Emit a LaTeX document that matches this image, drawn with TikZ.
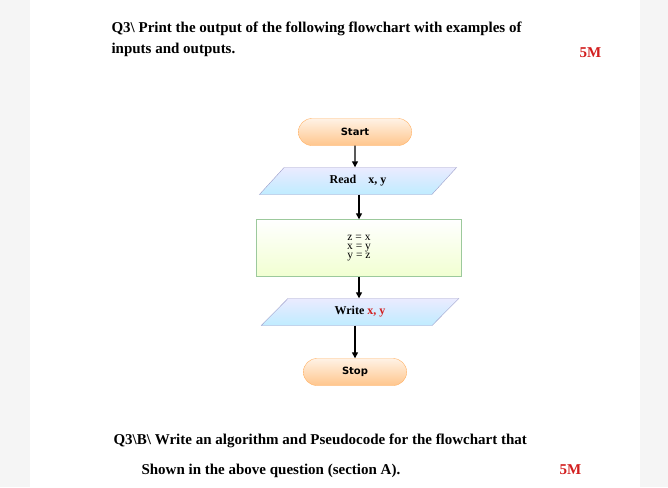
\documentclass[tikz,border=0pt]{standalone}
\usepackage{fontspec}
\setmainfont{Liberation Serif}
\newfontfamily\dvs{DejaVu Sans}
\usetikzlibrary{shapes.geometric,shapes.misc,arrows.meta}
\definecolor{myred}{RGB}{210,30,30}
\tikzset{
 term/.style={rounded rectangle,minimum width=#1,minimum height=27pt,draw=orange!60!white,top color=orange!10,bottom color=orange!45,font=\dvs\bfseries\fontsize{10}{11}\selectfont},
 io/.style={trapezium,trapezium stretches=true,trapezium left angle=60,trapezium right angle=120,minimum width=198pt,minimum height=27pt,draw=blue!30!gray!60,top color=blue!8,bottom color=blue!30!cyan!25,font=\fontsize{12}{13}\selectfont,inner xsep=2pt},
 proc/.style={rectangle,minimum width=205pt,minimum height=57pt,draw=green!30!gray!60,top color=white,bottom color=green!30!yellow!18,font=\fontsize{11.5}{12}\selectfont,align=center},
 arr/.style={-{Triangle[length=6pt,width=6pt]},line width=1.3pt},
 head/.style={anchor=base west,font=\bfseries\fontsize{15}{17}\selectfont}
}
\begin{document}
\begin{tikzpicture}[x=1pt,y=-1pt]
\useasboundingbox (0,0) rectangle (668,487);
\fill[gray!8] (0,0) rectangle (30,487);
\fill[gray!8] (640,0) rectangle (668,487);
\node[head] (t1) at (108,33) {Q3\textbackslash\ Print the output of the following flowchart with examples of};
\node[head] (t2) at (108,53) {inputs and outputs.};
\node[head,text=myred] (m1) at (576,57) {5M};
\node[term=120pt] (start) at (355,132) {Start};
\node[io] (read) at (358,181) {\bfseries Read\quad x, y};
\node[proc] (pr) at (359,248) {z = x\\[-3pt] x = y\\[-3pt] y = z};
\node[io] (write) at (360,312) {\bfseries Write \textcolor{myred}{x, y}};
\node[term=110pt] (stop) at (355,372) {Stop};
\draw[arr] (start) -- (start|-read.north);
\draw[arr] (read.south -| pr.north) -- (pr.north);
\draw[arr] (pr.south) -- (pr.south|-write.north);
\draw[arr] (write.south-|stop.north) -- (stop.north);
\node[head] (b1) at (110,444) {Q3\textbackslash B\textbackslash\ Write an algorithm and Pseudocode for the flowchart that};
\node[head] (b2) at (138,474) {Shown in the above question (section A).};
\node[head,text=myred] (m2) at (556,474) {5M};
\end{tikzpicture}
\end{document}
